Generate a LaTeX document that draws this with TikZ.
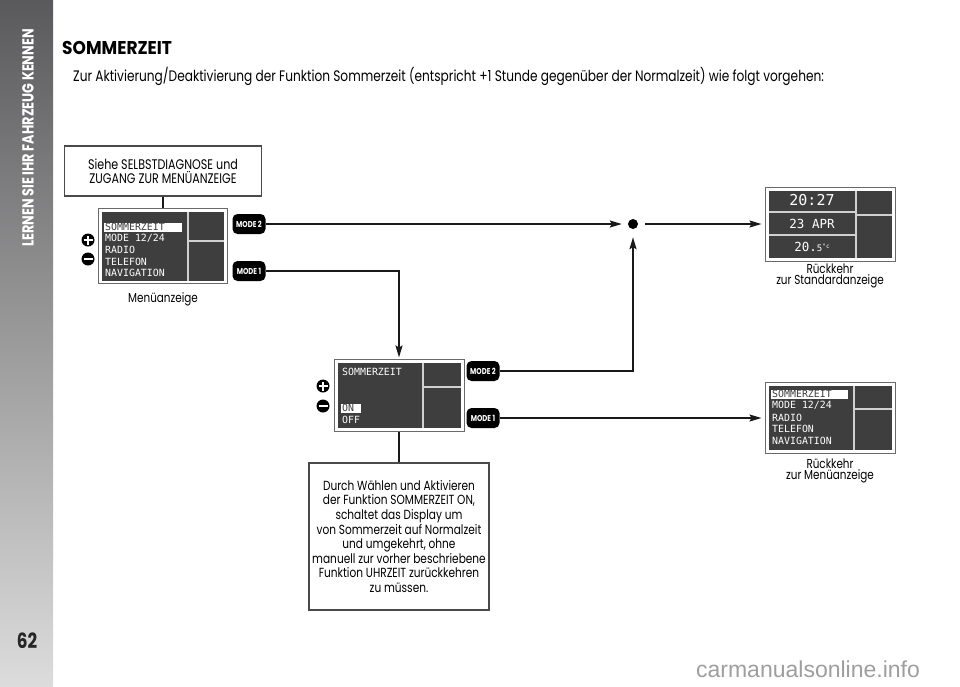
\documentclass[tikz,border=0pt]{standalone}
\usepackage{fontspec}
\setmainfont{Poppins}[FakeStretch=0.8]
\newfontfamily\headfont{Poppins}[FakeStretch=0.92]
\newfontfamily\lcdfont{DejaVu Sans Mono}
\newfontfamily\wmfont{Liberation Sans}
\usetikzlibrary{arrows.meta}
\definecolor{sideA}{HTML}{5A5A5C}
\definecolor{sideB}{HTML}{DCDCDC}
\definecolor{lcdbg}{HTML}{3E3E3E}
\definecolor{lcdln}{HTML}{D0D0D0}
\definecolor{frm}{HTML}{6A6A6A}
\definecolor{boxln}{HTML}{4A4A4A}
\tikzset{
  lcd/.style={draw=frm, fill=white, line width=1pt, inner sep=0pt},
  infobox/.style={draw=boxln, line width=1.1pt, fill=white, align=center, inner sep=2pt,
    font=\fontsize{13.2}{14.6}\selectfont},
  modebtn/.style={fill=black, rounded corners=5pt, minimum width=33pt, minimum height=20pt,
    inner sep=0pt, text=white, font=\bfseries\fontsize{8.5}{9}\selectfont},
  lcdtxt/.style={anchor=west, inner sep=0pt, text=white, font=\lcdfont\fontsize{9.9}{10}\selectfont},
  lcdsel/.style={anchor=west, inner sep=0pt, text=lcdbg, font=\lcdfont\fontsize{9.9}{10}\selectfont},
  divl/.style={draw=lcdln, line width=1.2pt},
  conn/.style={line width=1.7pt, draw=black!90},
  arr/.style={conn, -{Stealth[length=12pt,width=7pt,inset=2pt]}},
  pmbtn/.style={circle, fill=black, minimum size=13pt, inner sep=0pt},
  lbl/.style={align=center, font=\fontsize{13}{11.5}\selectfont},
}
\begin{document}
\begin{tikzpicture}[x=1pt,y=-1pt]
\useasboundingbox (0,0) rectangle (960,686);
% sidebar
\shade[top color=sideA, bottom color=sideB] (0,0) rectangle (53,686);
\node[rotate=90, text=white, font=\bfseries\fontsize{16}{16}\selectfont] (side) at (28,138) {LERNEN SIE IHR FAHRZEUG KENNEN};
\node[text=black!85, font=\bfseries\fontsize{21}{21}\selectfont] (pg) at (27,641) {62};
% heading
\node[anchor=west, inner sep=0pt, font=\headfont\bfseries\fontsize{18.5}{18.5}\selectfont] (title) at (62,48) {SOMMERZEIT};
\node[anchor=west, inner sep=0pt, font=\fontsize{15.2}{16}\selectfont] (intro) at (73,76) {Zur Aktivierung/Deaktivierung der Funktion Sommerzeit (entspricht +1 Stunde gegenüber der Normalzeit) wie folgt vorgehen:};
% first info box
\node[infobox, minimum width=197pt, minimum height=50pt, font=\fontsize{13.9}{14}\selectfont] (see) at (163,171) {Siehe SELBSTDIAGNOSE und\\ZUGANG ZUR MENÜANZEIGE};
% menu display
\node[lcd, minimum width=129pt, minimum height=75pt] (menu) at (163,246) {};
\fill[lcdbg] (102,211.5) rectangle (224,280.5);
\draw[divl] (188,211.5) -- (188,280.5) (188,241) -- (224,241);
\fill[white] (104,222.5) rectangle (182,231.5);
\node[lcdsel] (m1a) at (105,227) {SOMMERZEIT};
\node[lcdtxt] (m1b) at (105,238.5) {MODE 12/24};
\node[lcdtxt] (m1c) at (105,250) {RADIO};
\node[lcdtxt] (m1d) at (105,261.5) {TELEFON};
\node[lcdtxt] (m1e) at (105,273) {NAVIGATION};
\node[lbl] (menulbl) at (163,299) {Menüanzeige};
\node[pmbtn] (plus1) at (88,240) {};
\node[pmbtn] (minus1) at (88,259) {};
\draw[white, line width=2pt] (83.5,240) -- (92.5,240) (88,235.5) -- (88,244.5) (83.5,259) -- (92.5,259);
\node[modebtn] (mb2) at (249,224) {MODE 2};
\node[modebtn] (mb1) at (249,271) {MODE 1};
\draw[conn] (see.south) -- (menu.north);
% dot and standard display
\node[circle, fill=black, inner sep=0pt, minimum size=10pt] (dot) at (633,224) {};
\node[lcd, minimum width=130pt, minimum height=74pt] (std) at (830,224) {};
\fill[lcdbg] (768.5,190.5) rectangle (891.5,257.5);
\draw[divl] (856,190.5) -- (856,257.5) (856,215) -- (891.5,215)
  (768.5,212) -- (856,212) (768.5,235) -- (856,235);
\node[text=white, inner sep=0pt, font=\lcdfont\fontsize{15}{15}\selectfont] (clock) at (812,200.5) {20:27};
\node[text=white, inner sep=0pt, font=\lcdfont\fontsize{12.5}{13}\selectfont] (date) at (812,224) {23 APR};
\node[text=white, inner sep=0pt, font=\lcdfont\fontsize{12.5}{13}\selectfont] (temp) at (812,247) {20.{\fontsize{9}{9}\selectfont 5}{\fontsize{6}{6}\selectfont\raisebox{3pt}{°c}}};
\node[lbl] (stdlbl) at (830,276) {Rückkehr\\zur Standardanzeige};
% set display
\node[lcd, minimum width=130pt, minimum height=72pt] (set) at (399,395) {};
\fill[lcdbg] (337.5,362.5) rectangle (460.5,427.5);
\draw[divl] (423,362.5) -- (423,427.5) (423,387) -- (460.5,387);
\node[lcdtxt] (s1) at (342,372) {SOMMERZEIT};
\fill[white] (341,403.5) rectangle (361,412.5);
\node[lcdsel] (s2) at (342,408) {ON};
\node[lcdtxt] (s3) at (342,420) {OFF};
\node[pmbtn] (plus2) at (323,386) {};
\node[pmbtn] (minus2) at (323,406) {};
\draw[white, line width=2pt] (318.5,386) -- (327.5,386) (323,381.5) -- (323,390.5) (318.5,406) -- (327.5,406);
\node[modebtn] (s2btn) at (483,371) {MODE 2};
\node[modebtn] (s1btn) at (483,418) {MODE 1};
% explanation box
\node[infobox, minimum width=180pt, minimum height=147pt] (expl) at (399,536.5) {Durch Wählen und Aktivieren\\der Funktion SOMMERZEIT ON,\\schaltet das Display um\\von Sommerzeit auf Normalzeit\\und umgekehrt, ohne\\manuell zur vorher beschriebene\\Funktion UHRZEIT zurückkehren\\zu müssen.};
\draw[conn] (set.south) -- (expl.north);
% return menu display
\node[lcd, minimum width=130pt, minimum height=71pt] (ret) at (830,418) {};
\fill[lcdbg] (768.5,386) rectangle (891.5,450);
\draw[divl] (854,386) -- (854,450) (854,409) -- (891.5,409);
\fill[white] (771,389.5) rectangle (848,398.5);
\node[lcdsel] (r1) at (772,394) {SOMMERZEIT};
\node[lcdtxt] (r2) at (772,405.5) {MODE 12/24};
\node[lcdtxt] (r3) at (772,417.5) {RADIO};
\node[lcdtxt] (r4) at (772,429) {TELEFON};
\node[lcdtxt] (r5) at (772,441) {NAVIGATION};
\node[lbl] (retlbl) at (830,471) {Rückkehr\\zur Menüanzeige};
% connectors
\draw[arr, shorten >=6pt] (mb2.east) -- (dot.west);
\draw[arr, shorten <=7pt, shorten >=3pt] (dot.east) -- (std.west);
\draw[arr, shorten >=1pt] (mb1.east) -| (set.north);
\draw[arr, shorten >=8pt] (s2btn.east) -| (dot.south);
\draw[arr, shorten >=3pt] (s1btn.east) -- (ret.west);
% watermark
\node[text=black!38, inner sep=0pt, font=\wmfont\fontsize{23}{23}\selectfont] (wm) at (808,669) {carmanualsonline.info};
\end{tikzpicture}
\end{document}
